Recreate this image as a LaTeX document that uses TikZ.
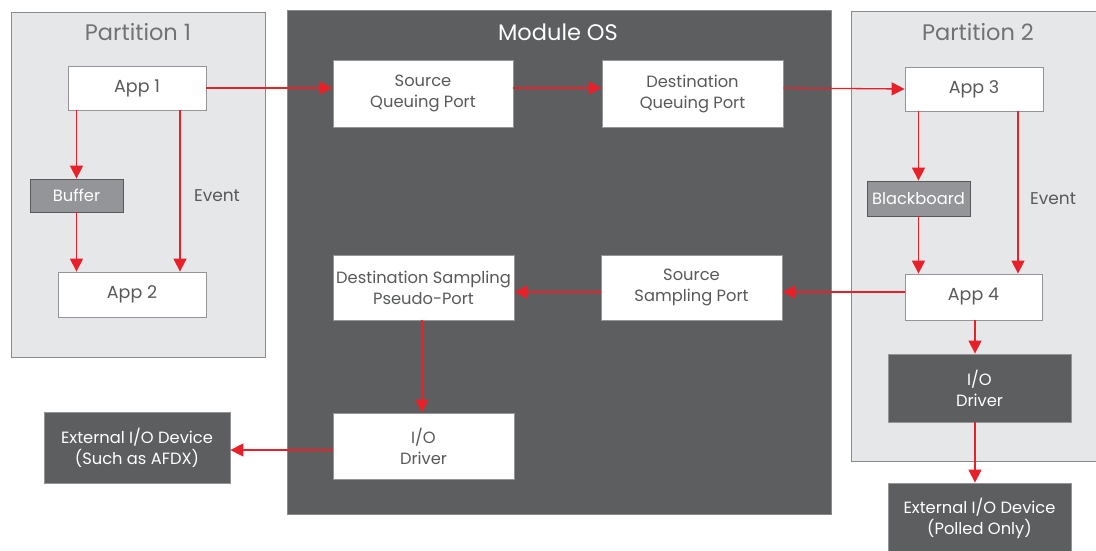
\documentclass[tikz,border=0pt]{standalone}
\usepackage{fontspec}
\setmainfont{Poppins}
\usetikzlibrary{arrows.meta}
\definecolor{osgray}{HTML}{5D5E60}
\definecolor{partgray}{HTML}{E6E7E8}
\definecolor{midgray}{HTML}{939598}
\definecolor{txtgray}{HTML}{58595B}
\definecolor{edgegray}{HTML}{8A8B8D}
\definecolor{arrred}{HTML}{E8202A}
\begin{document}
\begin{tikzpicture}[x=1pt,y=-1pt,
  region/.style={draw=edgegray,line width=1pt},
  boxfont/.style={font=\fontsize{16.3}{21}\selectfont},
  whitebox/.style={draw=midgray,fill=white,line width=0.8pt,text=txtgray,align=center,boxfont},
  graybox/.style={draw=txtgray,fill=midgray,line width=0.8pt,text=white,align=center,boxfont},
  darkbox/.style={draw=midgray,fill=osgray,line width=0.8pt,text=white,align=center,boxfont},
  appfont/.style={font=\fontsize{17.5}{21}\selectfont},
  title/.style={font=\fontsize{22.5}{26}\selectfont},
  lbl/.style={text=txtgray,font=\fontsize{17}{20}\selectfont},
  arr/.style={draw=arrred,line width=1.3pt,-{Triangle[width=13pt,length=13pt]}}
]
\useasboundingbox (0,0) rectangle (1096,551);
% regions
\path[region,fill=partgray] (11,13) rectangle (265,357);
\path[region,fill=osgray] (287,11) rectangle (831,514);
\path[region,fill=partgray] (851,12) rectangle (1100,461);
\node[title,text=txtgray!85] (p1t) at (138,32) {Partition 1};
\node[title,text=white] (ost) at (558,32) {Module OS};
\node[title,text=txtgray!85] (p2t) at (978,32) {Partition 2};
% partition 1
\node[whitebox,appfont,minimum width=138,minimum height=44,inner sep=0] (app1) at (137,88) {App 1};
\node[graybox,minimum width=93,minimum height=33,inner sep=0] (buf) at (76.5,195.5) {Buffer};
\node[whitebox,appfont,minimum width=148,minimum height=45,inner sep=0] (app2) at (132,294.5) {App 2};
\node[lbl] (ev1) at (217,196) {Event};
% module OS
\node[whitebox,minimum width=180,minimum height=67,inner sep=0] (sqp) at (423,93.5) {Source\\Queuing Port};
\node[whitebox,minimum width=181,minimum height=67,inner sep=0] (dqp) at (692.5,93.5) {Destination\\Queuing Port};
\node[whitebox,minimum width=181,minimum height=65,inner sep=0] (dspp) at (423.5,287.5) {Destination Sampling\\Pseudo-Port};
\node[whitebox,minimum width=181,minimum height=65,inner sep=0] (ssp) at (691.5,287.5) {Source\\Sampling Port};
\node[whitebox,minimum width=181,minimum height=66,inner sep=0] (iod1) at (423.5,446) {I/O\\Driver};
\node[darkbox,minimum width=186,minimum height=71,inner sep=0] (ext1) at (137,447.5) {External I/O Device\\(Such as AFDX)};
% partition 2
\node[whitebox,appfont,minimum width=138,minimum height=44,inner sep=0] (app3) at (974,89) {App 3};
\node[graybox,minimum width=103,minimum height=35,inner sep=0] (bb) at (918.5,198.5) {Blackboard};
\node[whitebox,appfont,minimum width=137,minimum height=46,inner sep=0] (app4) at (973.5,297) {App 4};
\node[lbl] (ev2) at (1053,199) {Event};
\node[darkbox,minimum width=183,minimum height=68,inner sep=0] (iod2) at (979.5,388) {I/O\\Driver};
\node[darkbox,minimum width=183,minimum height=70,inner sep=0] (ext2) at (979.5,518) {External I/O Device\\(Polled Only)};
% connectors
\draw[arr] (app1.east) -- (sqp.west |- app1.east);
\draw[arr] (sqp.east |- app1.east) -- (dqp.west |- app1.east);
\draw[arr] (dqp.east |- app1.east) -- (app3.west);
\draw[arr] (app1.south -| buf) -- (buf.north);
\draw[arr] (buf.south) -- (app2.north -| buf);
\draw[arr] (app1.south -| 180,0) -- (app2.north -| 180,0);
\draw[arr] (app3.south -| bb) -- (bb.north);
\draw[arr] (bb.south) -- (app4.north -| bb);
\draw[arr] (app3.south -| 1018,0) -- (app4.north -| 1018,0);
\draw[arr] (app4.west |- 0,292) -- (ssp.east |- 0,292);
\draw[arr] (ssp.west |- 0,292) -- (dspp.east |- 0,292);
\draw[arr] (dspp.south -| 422,0) -- (iod1.north -| 422,0);
\draw[arr] (iod1.west |- 0,450) -- (ext1.east |- 0,450);
\draw[arr] (app4.south -| 975,0) -- (iod2.north -| 975,0);
\draw[arr] (iod2.south -| 975,0) -- (ext2.north -| 975,0);
\end{tikzpicture}
\end{document}
